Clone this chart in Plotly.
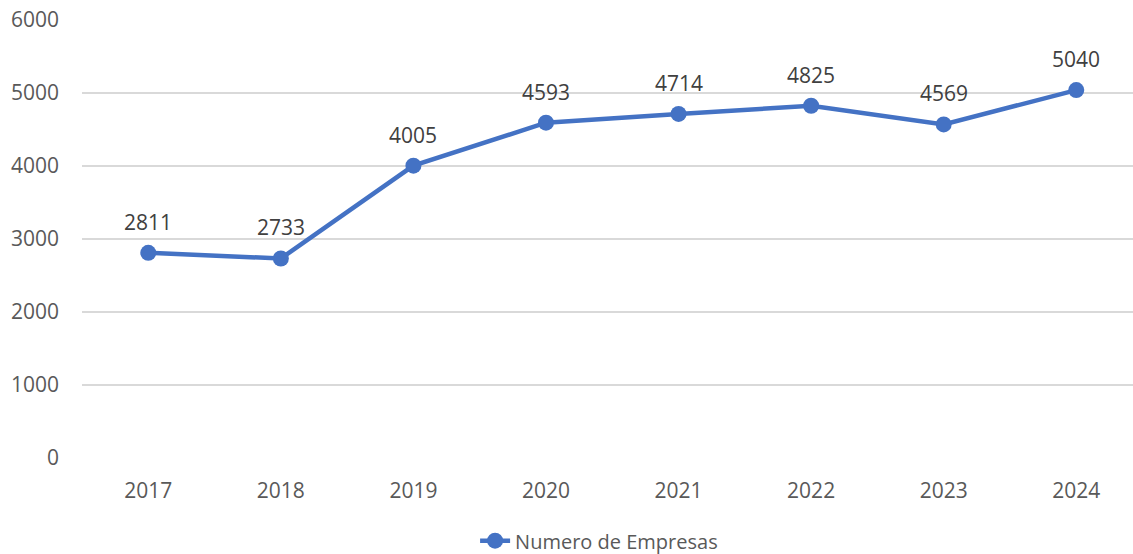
import plotly.graph_objects as go

years = ["2017", "2018", "2019", "2020", "2021", "2022", "2023", "2024"]
empresas = [2811, 2733, 4005, 4593, 4714, 4825, 4569, 5040]
series_name = "Numero de Empresas"

FONT = "Open Sans"
FS = 21
fig = go.Figure()
fig.add_trace(go.Scatter(
    x=years, y=empresas, mode="lines+markers", name=series_name,
    line=dict(color="#4472C4", width=4.5),
    marker=dict(color="#4472C4", size=16),
))
for i, y in enumerate(empresas):
    fig.add_annotation(x=i, y=y, text=str(y), showarrow=False, yshift=31,
                       font=dict(family=FONT, size=FS, color="#404040"))

fig.update_layout(
    width=1133, height=554,
    margin=dict(l=82, r=0, t=20, b=96, autoexpand=False),
    paper_bgcolor="white", plot_bgcolor="white",
    font=dict(family=FONT, size=FS, color="#595959"),
    showlegend=True,
    legend=dict(orientation="h", x=0.492, xanchor="center", yref="container", y=0.024,
                yanchor="middle", font=dict(family=FONT, size=FS - 1, color="#595959")),
    xaxis=dict(type="category", range=[-0.5, 7.428], showgrid=False, zeroline=False,
               showline=False, ticks="", tickfont=dict(size=FS, color="#595959")),
    yaxis=dict(range=[0, 6000], dtick=1000, showgrid=True, gridcolor="#D9D9D9", gridwidth=1.5,
               zeroline=False, showline=False, ticks="", ticklen=0,
               tickfont=dict(size=FS, color="#595959")),
)
fig.update_yaxes(ticklabelstandoff=22)
fig.update_xaxes(ticklabelstandoff=18)
fig.write_html("out.html", config={"displayModeBar": False},
               post_script="document.body.style.margin='0';")
